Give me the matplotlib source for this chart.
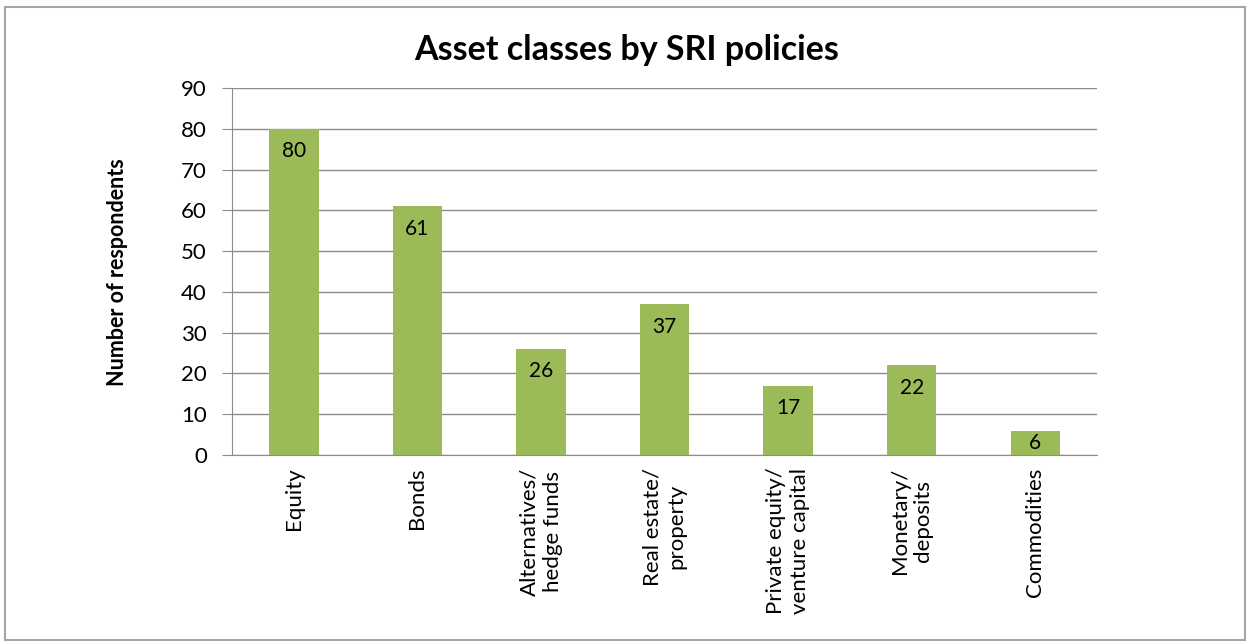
import matplotlib.pyplot as plt
from matplotlib.patches import Rectangle

categories = ["Equity", "Bonds", "Alternatives/\nhedge funds", "Real estate/\nproperty",
              "Private equity/\nventure capital", "Monetary/\ndeposits", "Commodities"]
respondents = [80, 61, 26, 37, 17, 22, 6]
y_ticks = [0, 10, 20, 30, 40, 50, 60, 70, 80, 90]

plt.rcParams["font.family"] = ["Lato", "DejaVu Sans"]

fig = plt.figure(figsize=(12.5, 6.44), dpi=100)
ax = fig.add_axes([232 / 1250, 1 - 455 / 644, 865 / 1250, 367 / 644])

# outer chart border
fig.patches.append(Rectangle((5 / 1250, 4 / 644), 1240 / 1250, 633 / 644,
                             transform=fig.transFigure, fill=False,
                             edgecolor="#a6a6a6", linewidth=1.5))

x = range(len(categories))
bars = ax.bar(x, respondents, width=0.4, color="#9bbb59", zorder=3)
for b, v in zip(bars, respondents):
    # inside-end label, kept within short bars
    ax.text(b.get_x() + b.get_width() / 2, max(v - 5.5, v / 2), str(v),
            ha="center", va="center", fontsize=15, zorder=4)

ax.set_xlim(-0.5, len(categories) - 0.5)
ax.set_ylim(0, 90)
ax.set_yticks(y_ticks)
ax.yaxis.grid(True, color="#8c8c8c", linewidth=1, zorder=0)
ax.set_xticks(list(x))
ax.set_xticklabels(categories, rotation=90, ha="center", va="top",
                   multialignment="center", fontsize=16)
ax.tick_params(axis="x", length=0, pad=9)
ax.tick_params(axis="y", length=7, color="#8c8c8c", labelsize=16, pad=11)
for side in ["top", "right"]:
    ax.spines[side].set_visible(False)
ax.spines["left"].set_color("#8c8c8c")
ax.spines["bottom"].set_color("#8c8c8c")

fig.text(627 / 1250, 1 - 50 / 644, "Asset classes by SRI policies",
         ha="center", va="center", fontsize=24.5, fontweight="bold")
fig.text(118 / 1250, 1 - 272 / 644, "Number of respondents", rotation=90,
         ha="center", va="center", fontsize=15.5, fontweight="bold")

fig.savefig("out.png", dpi=100)
